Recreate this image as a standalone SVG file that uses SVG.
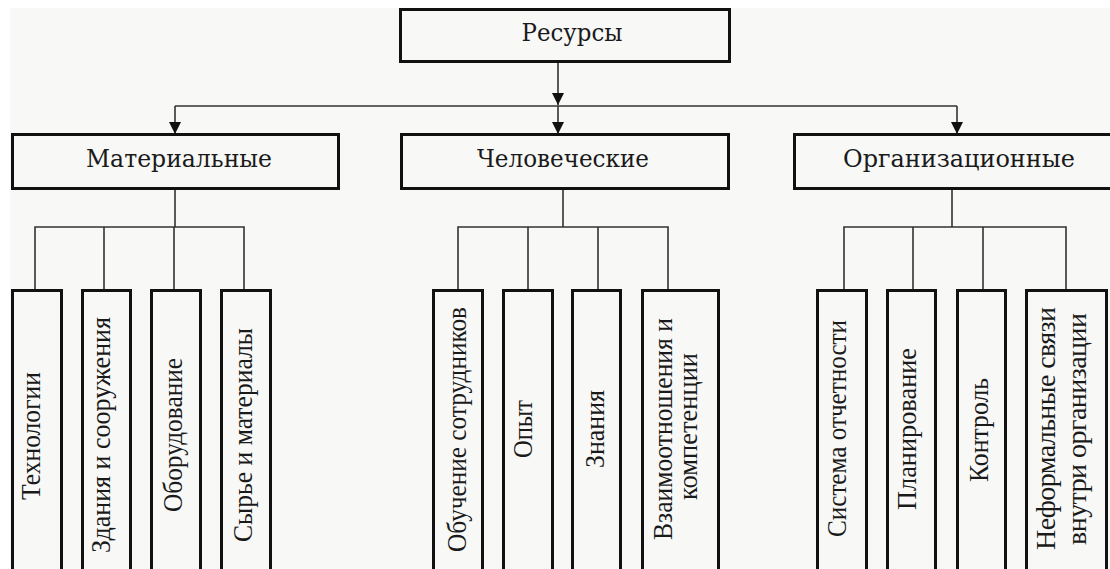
<svg xmlns="http://www.w3.org/2000/svg" width="1110" height="569" viewBox="0 0 1110 569">
<style>
.box{fill:#f8f8f7;stroke:#111;stroke-width:3}
.lbl{font-family:"DejaVu Serif","Liberation Serif",serif;font-size:24px;fill:#1a1a1a;text-anchor:middle}
.vl{font-family:"Liberation Serif","Times New Roman",serif;font-size:28px;fill:#1a1a1a;text-anchor:middle}
.con{fill:none;stroke:#333;stroke-width:1.6}
</style>
<defs>
<marker id="arr" markerUnits="userSpaceOnUse" viewBox="0 0 12 12" refX="12" refY="6" markerWidth="12" markerHeight="12" orient="auto">
<path d="M0,0 L12,6 L0,12 z" fill="#111"/>
</marker>
</defs>
<rect x="0" y="0" width="1110" height="569" fill="#ffffff"/>
<rect x="10" y="8" width="1100" height="561" fill="#f8f8f7"/>

<g id="connectors">
<line class="con" x1="558" y1="62" x2="558" y2="105" marker-end="url(#arr)"/>
<line class="con" x1="175" y1="106" x2="957" y2="106"/>
<line class="con" x1="175" y1="106" x2="175" y2="134" marker-end="url(#arr)"/>
<line class="con" x1="558" y1="106" x2="558" y2="134" marker-end="url(#arr)"/>
<line class="con" x1="957" y1="106" x2="957" y2="134" marker-end="url(#arr)"/>
<path class="con" d="M175,189 V227 M35,289 V227 H244 V289 M104,227 V289 M174,227 V289"/>
<path class="con" d="M563,189 V227 M458,289 V227 H668 V289 M528,227 V289 M598,227 V289"/>
<path class="con" d="M952,189 V227 M844,289 V227 H1066 V289 M913,227 V289 M983,227 V289"/>
</g>

<g id="n-resursy">
<rect class="box" x="400.5" y="9.5" width="329" height="52"/>
<text class="lbl" x="572" y="41" textLength="101" lengthAdjust="spacingAndGlyphs">Ресурсы</text>
</g>
<g id="n-material">
<rect class="box" x="12.5" y="134.5" width="326" height="54"/>
<text class="lbl" x="179" y="167" textLength="186" lengthAdjust="spacingAndGlyphs">Материальные</text>
</g>
<g id="n-human">
<rect class="box" x="401.5" y="134.5" width="327" height="54"/>
<text class="lbl" x="563" y="167" textLength="172" lengthAdjust="spacingAndGlyphs">Человеческие</text>
</g>
<g id="n-org">
<rect class="box" x="794.5" y="134.5" width="330" height="54"/>
<text class="lbl" x="959" y="167" textLength="232" lengthAdjust="spacingAndGlyphs">Организационные</text>
</g>

<g id="n-tech">
<rect class="box" x="12.5" y="290.5" width="49" height="320"/>
<text class="vl" transform="translate(40,436) rotate(-90)" textLength="128" lengthAdjust="spacingAndGlyphs">Технологии</text>
</g>
<g id="n-zdania">
<rect class="box" x="82.5" y="290.5" width="48" height="320"/>
<text class="vl" transform="translate(110,435) rotate(-90)" textLength="236" lengthAdjust="spacingAndGlyphs">Здания и сооружения</text>
</g>
<g id="n-oborud">
<rect class="box" x="151.5" y="290.5" width="49" height="320"/>
<text class="vl" transform="translate(182,435) rotate(-90)" textLength="154" lengthAdjust="spacingAndGlyphs">Оборудование</text>
</g>
<g id="n-syrie">
<rect class="box" x="221.5" y="290.5" width="49" height="320"/>
<text class="vl" transform="translate(252,435) rotate(-90)" textLength="214" lengthAdjust="spacingAndGlyphs">Сырье и материалы</text>
</g>

<g id="n-obuch">
<rect class="box" x="433.5" y="290.5" width="49" height="320"/>
<text class="vl" transform="translate(466,429.5) rotate(-90)" textLength="245" lengthAdjust="spacingAndGlyphs">Обучение сотрудников</text>
</g>
<g id="n-opyt">
<rect class="box" x="503.5" y="290.5" width="49" height="320"/>
<text class="vl" transform="translate(532,429) rotate(-90)" textLength="58" lengthAdjust="spacingAndGlyphs">Опыт</text>
</g>
<g id="n-znania">
<rect class="box" x="572.5" y="290.5" width="48" height="320"/>
<text class="vl" transform="translate(604,429) rotate(-90)" textLength="78" lengthAdjust="spacingAndGlyphs">Знания</text>
</g>
<g id="n-vzaim">
<rect class="box" x="642.5" y="290.5" width="76" height="320"/>
<text class="vl" transform="translate(672,429) rotate(-90)" textLength="222" lengthAdjust="spacingAndGlyphs">Взаимоотношения и</text>
<text class="vl" transform="translate(697,426.5) rotate(-90)" textLength="147" lengthAdjust="spacingAndGlyphs">компетенции</text>
</g>

<g id="n-sistema">
<rect class="box" x="817.5" y="290.5" width="49" height="320"/>
<text class="vl" transform="translate(846,428.5) rotate(-90)" textLength="217" lengthAdjust="spacingAndGlyphs">Система отчетности</text>
</g>
<g id="n-plan">
<rect class="box" x="887.5" y="290.5" width="48" height="320"/>
<text class="vl" transform="translate(916,429) rotate(-90)" textLength="162" lengthAdjust="spacingAndGlyphs">Планирование</text>
</g>
<g id="n-kontrol">
<rect class="box" x="957.5" y="290.5" width="48" height="320"/>
<text class="vl" transform="translate(988,430) rotate(-90)" textLength="104" lengthAdjust="spacingAndGlyphs">Контроль</text>
</g>
<g id="n-neform">
<rect class="box" x="1026.5" y="290.5" width="80" height="320"/>
<text class="vl" transform="translate(1055,428.5) rotate(-90)" textLength="243" lengthAdjust="spacing">Неформальные связи</text>
<text class="vl" transform="translate(1086,429) rotate(-90)" textLength="232" lengthAdjust="spacing">внутри организации</text>
</g>
</svg>
